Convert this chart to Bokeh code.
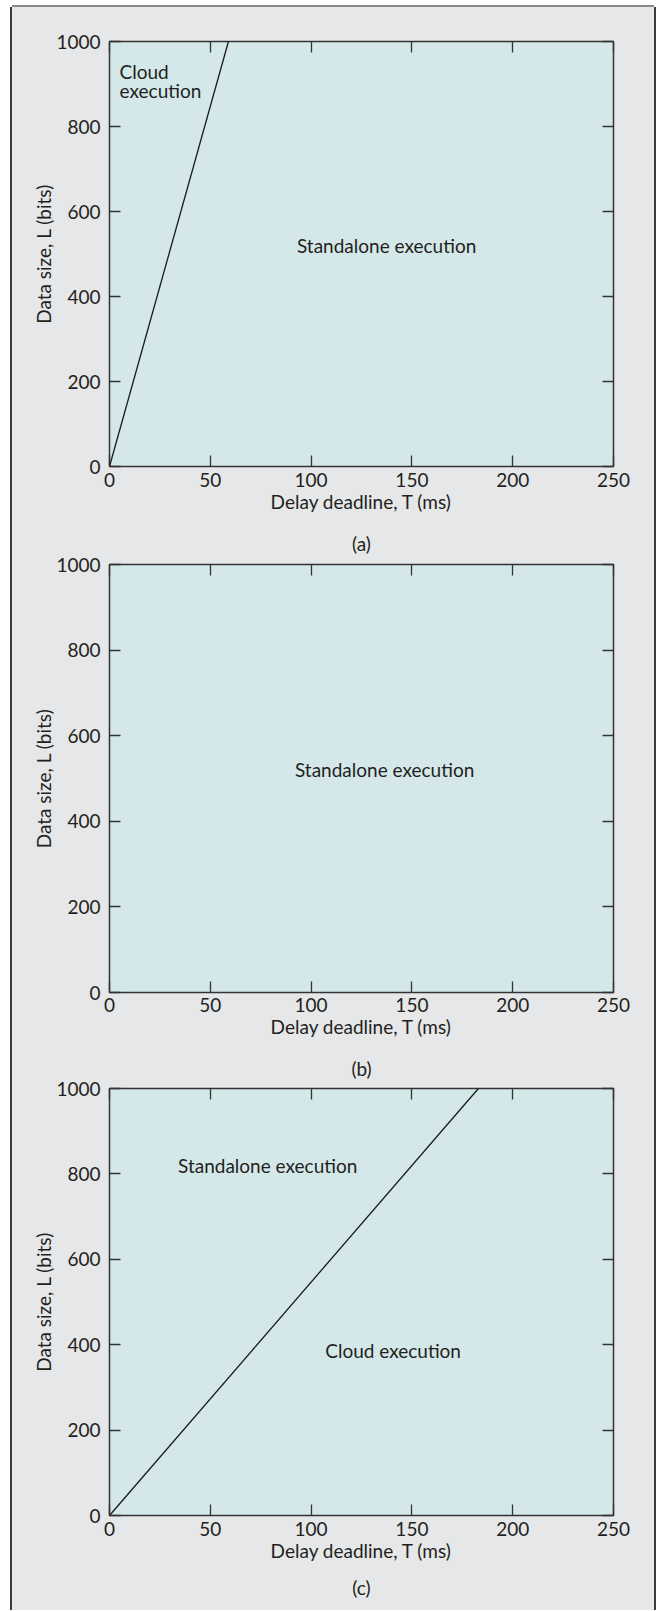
from bokeh.plotting import figure
from bokeh.models import LinearAxis, Title, FixedTicker, Range1d
from bokeh.layouts import column
from bokeh.embed import file_html
from bokeh.resources import INLINE
from bokeh.core.properties import value

# ---- data ----
T_TICKS = [0, 50, 100, 150, 200, 250]
L_TICKS = [0, 200, 400, 600, 800, 1000]
T_RANGE = [0, 250]
L_RANGE = [0, 1000]

# decision boundary (a): cloud execution to the left of the line
boundary_a_T = [0, 59]
boundary_a_L = [0, 1000]
# decision boundary (c): standalone above/left, cloud below/right
boundary_c_T = [0, 183]
boundary_c_L = [0, 1000]

captions = ["(a)", "(b)", "(c)"]
x_title = "Delay deadline, T (ms)"
y_title = "Data size, L (bits)"

# ---- style ----
FONT = "Lato"
TXT = "#231f20"
BG = "#e6e7e8"
FILL = "#d4e8ea"
FS = "19px"


def caption_title(text, standoff):
    return Title(text=text, align="center", text_font=FONT, text_font_size=FS,
                 text_font_style="normal", text_color=TXT, standoff=standoff)


def make_panel(width, height, mb_left, mb_right, mb_top, mb_bottom, x_lab_standoff):
    p = figure(width=width, height=height, output_backend="svg", toolbar_location=None,
               x_range=Range1d(*T_RANGE), y_range=Range1d(*L_RANGE),
               min_border_left=mb_left, min_border_right=mb_right,
               min_border_top=mb_top, min_border_bottom=mb_bottom,
               x_axis_label=x_title, y_axis_label=y_title)
    p.background_fill_color = FILL
    p.border_fill_color = BG
    p.outline_line_color = "#333333"
    p.outline_line_width = 1.5
    p.grid.visible = False
    for ax in (p.xaxis[0], p.yaxis[0]):
        ax.axis_line_color = None
        ax.major_tick_in = 11
        ax.major_tick_out = 0
        ax.major_tick_line_color = "#333333"
        ax.major_tick_line_width = 1.3
        ax.minor_tick_line_color = None
        ax.major_label_text_font = FONT
        ax.major_label_text_font_size = FS
        ax.major_label_text_color = TXT
        ax.axis_label_text_font = FONT
        ax.axis_label_text_font_size = FS
        ax.axis_label_text_font_style = "normal"
        ax.axis_label_text_color = TXT
    p.xaxis[0].ticker = FixedTicker(ticks=T_TICKS)
    p.yaxis[0].ticker = FixedTicker(ticks=L_TICKS)
    p.xaxis[0].major_label_standoff = x_lab_standoff
    p.xaxis[0].axis_label_standoff = 0
    p.yaxis[0].major_label_standoff = 9
    p.yaxis[0].axis_label_standoff = -2

    for loc, tk in (("right", L_TICKS), ("above", T_TICKS)):
        ax = LinearAxis(ticker=FixedTicker(ticks=tk))
        ax.axis_line_color = None
        ax.major_tick_in = 11
        ax.major_tick_out = 0
        ax.major_tick_line_color = "#333333"
        ax.major_tick_line_width = 1.3
        ax.minor_tick_line_color = None
        ax.major_label_text_color = None
        ax.major_label_standoff = 0
        p.add_layout(ax, loc)
    return p


def label(p, x, y, s):
    p.text(x=[x], y=[y], text=[s], text_font=value(FONT), text_font_size=value(FS),
           text_color=TXT, text_baseline="alphabetic", text_align="left")


W = 642
# panel (a)
pa = make_panel(W, 511, 97, 41, 34, 52, 6)
pa.line(boundary_a_T, boundary_a_L, line_color="#1a1a1a", line_width=1.3)
label(pa, 5, 930, "Cloud")
label(pa, 5, 885, "execution")
label(pa, 93, 520, "Standalone execution")

# panel (b) -- carries caption (a) in its top margin
pb = make_panel(W, 525, 97, 33, 46, 51, 5)
pb.add_layout(caption_title(captions[0], 19), "above")
label(pb, 92, 521, "Standalone execution")

# panel (c) -- carries caption (b) above and its own caption (c) below
pc = make_panel(W, 567, 93, 37, 45, 95, 6)
pc.add_layout(caption_title(captions[1], 18), "above")
pc.add_layout(caption_title(captions[2], 18), "below")
pc.line(boundary_c_T, boundary_c_L, line_color="#1a1a1a", line_width=1.3)
label(pc, 34, 820, "Standalone execution")
label(pc, 107, 386, "Cloud execution")

layout = column(pa, pb, pc, spacing=0,
                styles={"margin-left": "12px", "margin-top": "7px",
                        "background-color": BG,
                        "box-shadow": "-2px 0 0 #3c3c3c, 2px 0 0 #3c3c3c, 0 -2px 0 #8a8a8a"})

open("out.html", "w").write(file_html(layout, INLINE))
